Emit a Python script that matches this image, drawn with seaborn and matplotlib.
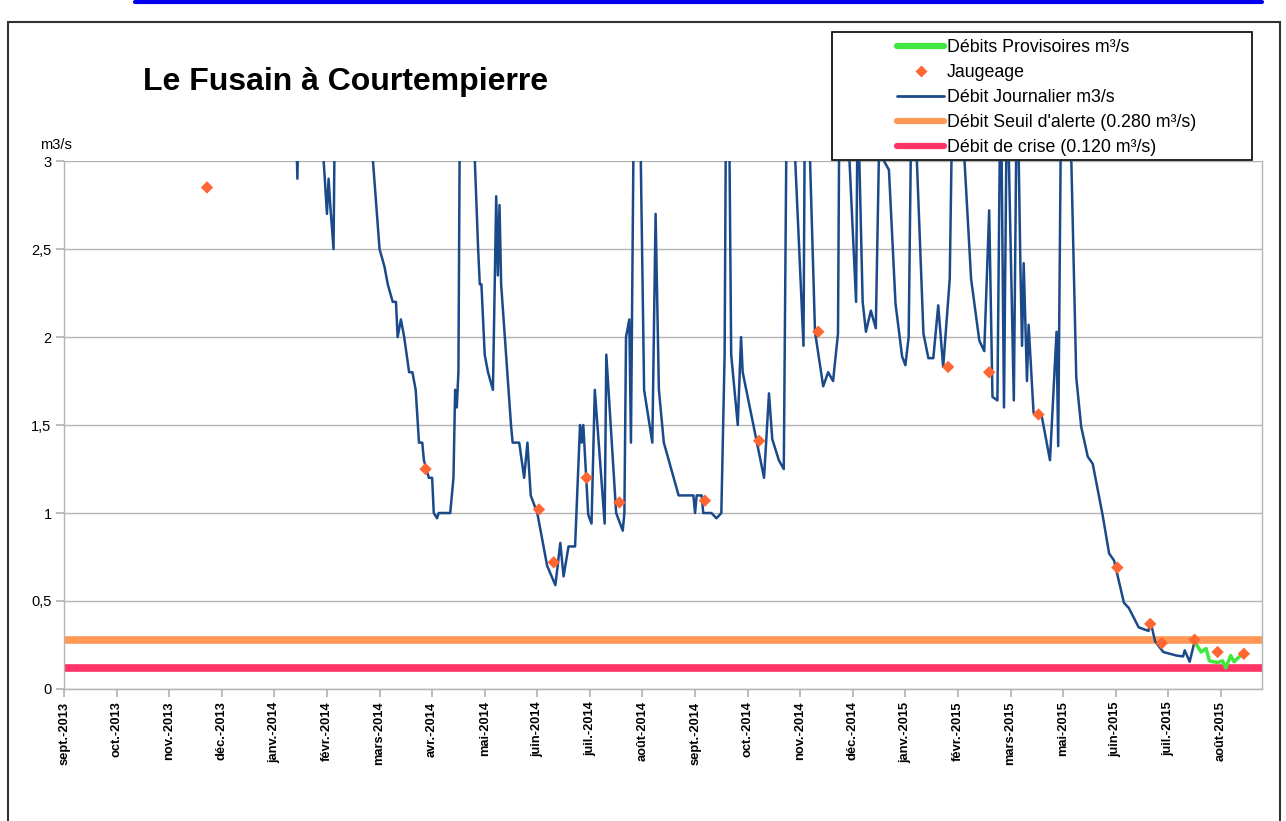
import pandas as pd
import matplotlib.pyplot as plt
import seaborn as sns
from matplotlib.lines import Line2D
from matplotlib.patches import Rectangle

# Débit journalier (m3/s); values above 3 run off the top of the chart
daily_dates = [
    "2014-01-05", "2014-01-20", "2014-01-21", "2014-01-22", "2014-02-03", "2014-02-06",
    "2014-02-08", "2014-02-09", "2014-02-10", "2014-02-12", "2014-02-13", "2014-02-28",
    "2014-03-08", "2014-03-12", "2014-03-15", "2014-03-17", "2014-03-20", "2014-03-22",
    "2014-03-23", "2014-03-25", "2014-03-27", "2014-03-30", "2014-04-01", "2014-04-03",
    "2014-04-05", "2014-04-07", "2014-04-08", "2014-04-11", "2014-04-13", "2014-04-14",
    "2014-04-16", "2014-04-17", "2014-04-24", "2014-04-26", "2014-04-27", "2014-04-28",
    "2014-04-29", "2014-04-30", "2014-05-04", "2014-05-09", "2014-05-11", "2014-05-12",
    "2014-05-13", "2014-05-15", "2014-05-17", "2014-05-20", "2014-05-22", "2014-05-23",
    "2014-05-24", "2014-05-25", "2014-05-28", "2014-05-31", "2014-06-01", "2014-06-05",
    "2014-06-08", "2014-06-10", "2014-06-12", "2014-06-16", "2014-06-22", "2014-06-27",
    "2014-06-30", "2014-07-02", "2014-07-05", "2014-07-09", "2014-07-12", "2014-07-13",
    "2014-07-14", "2014-07-17", "2014-07-19", "2014-07-21", "2014-07-27", "2014-07-28",
    "2014-08-03", "2014-08-07", "2014-08-08", "2014-08-09", "2014-08-11", "2014-08-12",
    "2014-08-14", "2014-08-16", "2014-08-18", "2014-08-20", "2014-08-25", "2014-08-27",
    "2014-08-29", "2014-09-01", "2014-09-04", "2014-09-07", "2014-09-10", "2014-09-19",
    "2014-09-20", "2014-09-21", "2014-09-24", "2014-09-25", "2014-09-30", "2014-10-03",
    "2014-10-06", "2014-10-08", "2014-10-09", "2014-10-11", "2014-10-12", "2014-10-13",
    "2014-10-16", "2014-10-18", "2014-10-19", "2014-11-01", "2014-11-04", "2014-11-06",
    "2014-11-10", "2014-11-13", "2014-11-15", "2014-11-18", "2014-11-20", "2014-11-25",
    "2014-11-26", "2014-11-29", "2014-12-02", "2014-12-07", "2014-12-10", "2014-12-13",
    "2014-12-16", "2014-12-17", "2014-12-20", "2014-12-23", "2014-12-27", "2014-12-28",
    "2014-12-31", "2015-01-02", "2015-01-05", "2015-01-08", "2015-01-11", "2015-01-13",
    "2015-01-16", "2015-01-20", "2015-01-24", "2015-01-26", "2015-01-28", "2015-01-30",
    "2015-02-02", "2015-02-06", "2015-02-09", "2015-02-12", "2015-02-15", "2015-02-18",
    "2015-02-22", "2015-02-24", "2015-02-27", "2015-03-03", "2015-03-07", "2015-03-12",
    "2015-03-15", "2015-03-18", "2015-03-20", "2015-03-23", "2015-03-25", "2015-03-27",
    "2015-03-29", "2015-03-30", "2015-04-02", "2015-04-04", "2015-04-06", "2015-04-07",
    "2015-04-08", "2015-04-10", "2015-04-11", "2015-04-14", "2015-04-19", "2015-04-24",
    "2015-04-28", "2015-04-29", "2015-05-01", "2015-05-04", "2015-05-07", "2015-05-10",
    "2015-05-13", "2015-05-17", "2015-05-20", "2015-05-26", "2015-05-30", "2015-06-02",
    "2015-06-08", "2015-06-11", "2015-06-17", "2015-06-23", "2015-06-24", "2015-06-27",
    "2015-07-02", "2015-07-10", "2015-07-14", "2015-07-15", "2015-07-18", "2015-07-21",
]
daily_flow = [
    3.8, 3.3, 2.9, 3.4, 3.5, 3.0,
    2.7, 2.9, 2.75, 2.5, 3.5, 4.2,
    3.0, 2.5, 2.4, 2.3, 2.2, 2.2,
    2.0, 2.1, 2.0, 1.8, 1.8, 1.7,
    1.4, 1.4, 1.3, 1.2, 1.2, 1.0,
    0.97, 1.0, 1.0, 1.2, 1.7, 1.6,
    1.8, 3.5, 4.5, 3.0, 2.5, 2.3,
    2.3, 1.9, 1.8, 1.7, 2.8, 2.35,
    2.75, 2.3, 1.9, 1.5, 1.4, 1.4,
    1.2, 1.4, 1.1, 1.0, 0.7, 0.59,
    0.83, 0.64, 0.81, 0.81, 1.5, 1.4,
    1.5, 0.99, 0.94, 1.7, 0.94, 1.9,
    1.0, 0.9, 1.0, 2.0, 2.1, 1.4,
    3.6, 4.0, 3.0, 1.7, 1.4, 2.7,
    1.7, 1.4, 1.3, 1.2, 1.1, 1.1,
    1.0, 1.1, 1.1, 1.0, 1.0, 0.97,
    1.0, 1.9, 3.6, 3.0, 1.9, 1.8,
    1.5, 2.0, 1.8, 1.2, 1.68, 1.42,
    1.3, 1.25, 3.6, 4.0, 3.0, 1.95,
    3.6, 3.0, 2.03, 1.72, 1.8, 1.75,
    2.02, 3.6, 4.0, 3.0, 2.2, 3.4,
    2.2, 2.03, 2.15, 2.05, 3.6, 3.0,
    2.95, 2.19, 1.89, 1.84, 2.0, 3.6,
    3.0, 2.02, 1.88, 1.88, 2.18, 1.83,
    2.33, 3.6, 4.0, 3.0, 2.33, 1.98,
    1.92, 2.72, 1.66, 1.64, 3.6, 1.6,
    3.6, 3.0, 1.64, 3.6, 2.4, 1.95,
    2.42, 1.75, 2.07, 1.57, 1.55, 1.3,
    2.03, 1.38, 3.6, 4.0, 3.0, 1.77,
    1.49, 1.32, 1.28, 0.99, 0.77, 0.73,
    0.49, 0.46, 0.35, 0.33, 0.39, 0.27,
    0.21, 0.19, 0.185, 0.22, 0.155, 0.27,
]

# Débits provisoires (m3/s)
prov_dates = ["2015-07-21", "2015-07-25", "2015-07-28", "2015-07-30", "2015-08-04", "2015-08-07",
              "2015-08-09", "2015-08-12", "2015-08-14", "2015-08-18", "2015-08-21"]
prov_flow = [0.27, 0.21, 0.23, 0.16, 0.15, 0.16, 0.12, 0.19, 0.155, 0.19, 0.2]

# Jaugeages (m3/s)
gauge_dates = ["2013-11-27", "2014-04-09", "2014-06-17", "2014-06-26", "2014-07-16", "2014-08-05",
               "2014-09-26", "2014-10-29", "2014-12-04", "2015-02-21", "2015-03-18", "2015-04-17",
               "2015-06-04", "2015-06-24", "2015-07-01", "2015-07-21", "2015-08-04", "2015-08-20"]
gauge_flow = [2.85, 1.25, 1.02, 0.72, 1.2, 1.06,
              1.07, 1.41, 2.03, 1.83, 1.8, 1.56,
              0.69, 0.37, 0.26, 0.28, 0.21, 0.2]

ALERT = 0.280
CRISIS = 0.120

tick_labels = ["sept.-2013", "oct.-2013", "nov.-2013", "déc.-2013", "janv.-2014", "févr.-2014",
               "mars-2014", "avr.-2014", "mai-2014", "juin-2014", "juil.-2014", "août-2014",
               "sept.-2014", "oct.-2014", "nov.-2014", "déc.-2014", "janv.-2015", "févr.-2015",
               "mars-2015", "mai-2015", "juin-2015", "juil.-2015", "août-2015"]

C_DAILY = "#1a4a8a"
C_PROV = "#3ee83e"
C_GAUGE = "#ff6633"
C_ALERT = "#ff9955"
C_CRISIS = "#ff3366"


def main():
    sns.set_theme(style="white")
    plt.rcParams['font.family'] = ['Liberation Sans', 'DejaVu Sans']
    plt.rcParams['text.color'] = 'black'

    daily = pd.DataFrame({'date': pd.to_datetime(daily_dates), 'flow': daily_flow})
    prov = pd.DataFrame({'date': pd.to_datetime(prov_dates), 'flow': prov_flow})
    gauge = pd.DataFrame({'date': pd.to_datetime(gauge_dates), 'flow': gauge_flow})

    fig = plt.figure(figsize=(12.86, 8.21), dpi=100)
    ax = fig.add_axes([0.0498, 0.1608, 0.9315, 0.643])

    ax.axhline(ALERT, color=C_ALERT, lw=5.5, zorder=1)
    ax.axhline(CRISIS, color=C_CRISIS, lw=5.5, zorder=1)
    sns.lineplot(data=daily, x='date', y='flow', color=C_DAILY, lw=1.8, ax=ax, legend=False, zorder=3)
    sns.lineplot(data=prov, x='date', y='flow', color=C_PROV, lw=2.5, ax=ax, legend=False, zorder=4)
    sns.scatterplot(data=gauge, x='date', y='flow', marker='D', color=C_GAUGE, s=40,
                    edgecolor='none', ax=ax, legend=False, zorder=5)

    # axes
    ax.set_ylim(0, 3)
    ax.set_yticks([0, 0.5, 1, 1.5, 2, 2.5, 3])
    ax.set_yticklabels([f"{v:g}".replace('.', ',') for v in ax.get_yticks()], fontsize=10.5)
    ticks = pd.date_range("2013-09-01", periods=len(tick_labels), freq="32D")
    ax.set_xticks(ticks)
    ax.set_xticklabels(tick_labels, rotation=90, fontsize=9.3, fontweight='bold', va='top', ha='center')
    ax.set_xlim(pd.Timestamp("2013-09-01"), pd.Timestamp("2015-08-31"))
    ax.set_xlabel('')
    ax.set_ylabel('')

    ax.yaxis.grid(True, color='#b3b3b3', lw=1)
    ax.xaxis.grid(False)
    ax.set_axisbelow(True)
    for side in ['left', 'bottom', 'right']:
        ax.spines[side].set_color('#b3b3b3')
        ax.spines[side].set_linewidth(1)
    ax.spines['top'].set_visible(False)
    ax.tick_params(axis='both', direction='out', length=6, color='#b3b3b3',
                   left=True, bottom=True, labelcolor='black', pad=3)

    # titles
    fig.text(143 / 1286, 1 - 82 / 821, "Le Fusain à Courtempierre", fontsize=23,
             fontweight='bold', color='black', ha='left', va='center')
    fig.text(40 / 1286, 1 - 145 / 821, "m3/s", fontsize=10.5, color='black', ha='left', va='center')

    # legend box
    fig.add_artist(Rectangle((832 / 1286, 1 - 160 / 821), 420 / 1286, 128 / 821,
                             transform=fig.transFigure, facecolor='white', edgecolor='black',
                             lw=1.2, zorder=4))
    handles = [
        Line2D([], [], color=C_PROV, lw=4.5),
        Line2D([], [], ls='none', marker='D', color=C_GAUGE, markersize=6, markeredgecolor='none'),
        Line2D([], [], color=C_DAILY, lw=2),
        Line2D([], [], color=C_ALERT, lw=4.5),
        Line2D([], [], color=C_CRISIS, lw=4.5),
    ]
    labels = ["Débits Provisoires m³/s", "Jaugeage", "Débit Journalier m3/s",
              "Débit Seuil d'alerte (0.280 m³/s)", "Débit de crise (0.120 m³/s)"]
    fig.legend(handles, labels, loc='upper left', bbox_to_anchor=(897 / 1286, 1 - 39 / 821),
               frameon=False, fontsize=12.8, handlelength=2.65, handletextpad=0.17,
               labelspacing=0.45, borderpad=0, borderaxespad=0)

    # page frame and link underline from the source page
    fig.add_artist(Rectangle((8 / 1286, -0.05), 1272 / 1286, 1.05 - 22 / 821,
                             transform=fig.transFigure, fill=False, edgecolor='#333333', lw=1.5))
    fig.add_artist(Line2D([135 / 1286, 1262 / 1286], [1 - 2 / 821, 1 - 2 / 821],
                          color='#0000ee', lw=3))

    fig.savefig('out.png', dpi=100)


if __name__ == "__main__":
    main()
